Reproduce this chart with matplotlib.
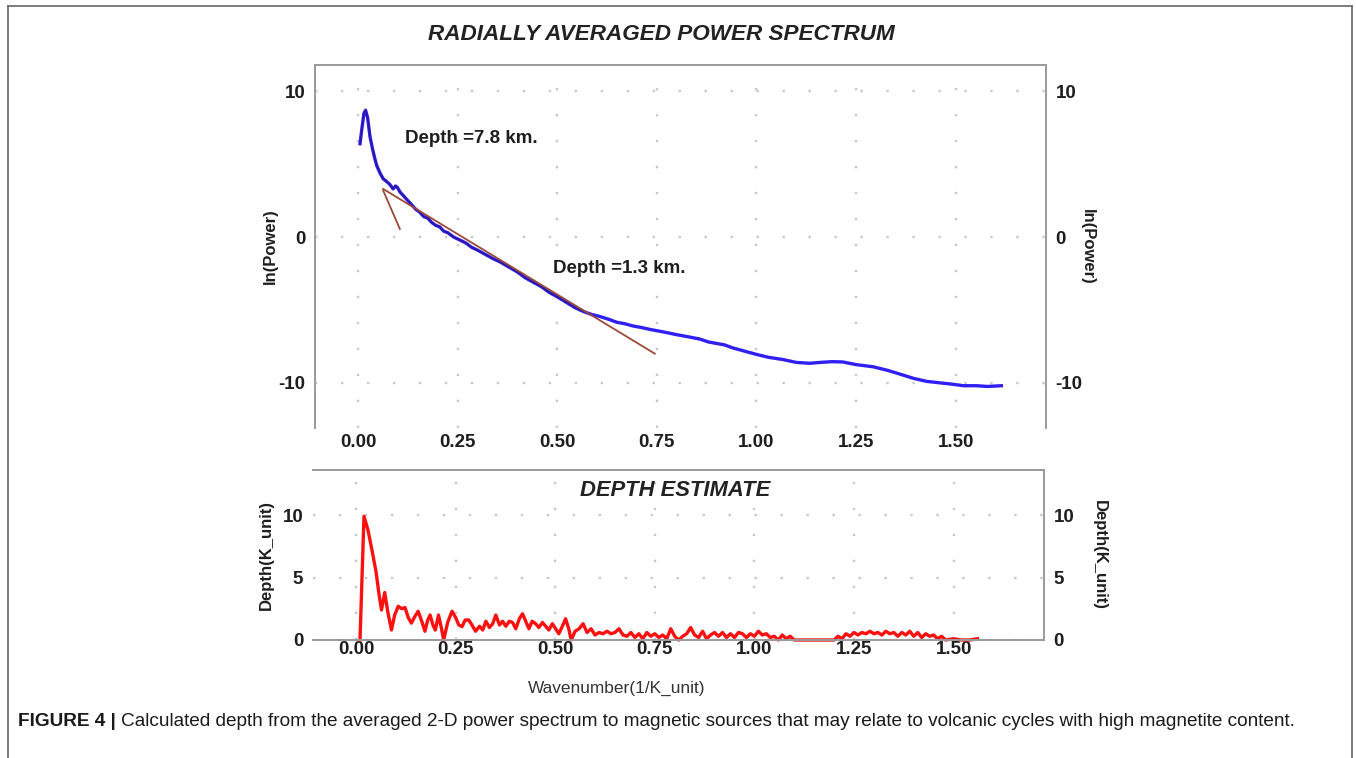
import matplotlib
matplotlib.use("Agg")
import matplotlib.pyplot as plt
from matplotlib.lines import Line2D

plt.rcParams['font.family'] = ['Liberation Sans', 'DejaVu Sans']

# ---- data: radially averaged power spectrum (blue) ----
k_power = [0.005, 0.010, 0.015, 0.019, 0.024, 0.030, 0.036, 0.042, 0.047, 0.055,
           0.063, 0.072, 0.080, 0.088, 0.094, 0.099, 0.105, 0.115, 0.125, 0.135,
           0.145, 0.155, 0.165, 0.175, 0.185, 0.195, 0.205, 0.215, 0.225, 0.240,
           0.255, 0.270, 0.285, 0.300, 0.320, 0.340, 0.356, 0.375, 0.400, 0.420,
           0.440, 0.460, 0.480, 0.500, 0.524, 0.545, 0.565, 0.585, 0.607, 0.630,
           0.650, 0.670, 0.690, 0.710, 0.735, 0.755, 0.774, 0.800, 0.830, 0.858,
           0.880, 0.900, 0.920, 0.940, 0.960, 0.980, 1.000, 1.030, 1.066, 1.100,
           1.134, 1.160, 1.190, 1.217, 1.250, 1.293, 1.330, 1.360, 1.395, 1.427,
           1.460, 1.493, 1.520, 1.552, 1.580, 1.615]
ln_power = [6.4, 7.5, 8.5, 8.7, 8.2, 6.9, 6.1, 5.4, 4.9, 4.4,
            4.0, 3.8, 3.6, 3.3, 3.5, 3.4, 3.1, 2.8, 2.5, 2.2,
            1.9, 1.7, 1.4, 1.3, 1.0, 0.8, 0.7, 0.4, 0.3, 0.0,
            -0.2, -0.4, -0.7, -0.9, -1.2, -1.5, -1.7, -2.0, -2.4, -2.8,
            -3.1, -3.4, -3.8, -4.1, -4.5, -4.85, -5.1, -5.3, -5.45, -5.65,
            -5.85, -5.95, -6.1, -6.2, -6.35, -6.45, -6.55, -6.7, -6.85, -7.0,
            -7.2, -7.3, -7.4, -7.6, -7.75, -7.9, -8.05, -8.25, -8.4, -8.6,
            -8.66, -8.6, -8.55, -8.57, -8.75, -8.9, -9.15, -9.4, -9.7, -9.9,
            -10.0, -10.1, -10.2, -10.2, -10.25, -10.2]

# fitted lines (endpoints)
fit_deep_k = [0.063, 0.105]
fit_deep_v = [3.2, 0.55]
fit_shallow_k = [0.063, 0.745]
fit_shallow_v = [3.3, -8.0]

# ---- data: depth estimate (red) ----
k_depth = [0.010, 0.020, 0.030, 0.040, 0.050, 0.058, 0.064, 0.072, 0.080, 0.089,
           0.097, 0.106, 0.115, 0.123, 0.131, 0.139, 0.148, 0.156, 0.165, 0.173,
           0.180, 0.186, 0.193, 0.199, 0.207, 0.214, 0.220, 0.230, 0.241, 0.250,
           0.258, 0.266, 0.274, 0.283, 0.291, 0.300, 0.310, 0.318, 0.326, 0.335,
           0.343, 0.351, 0.360, 0.368, 0.376, 0.385, 0.393, 0.401, 0.410, 0.418,
           0.426, 0.434, 0.442, 0.451, 0.459, 0.468, 0.476, 0.484, 0.493, 0.501,
           0.509, 0.518, 0.526, 0.534, 0.540, 0.550, 0.560, 0.570, 0.580, 0.590,
           0.600, 0.610, 0.620, 0.630, 0.640, 0.650, 0.660, 0.670, 0.680, 0.690,
           0.700, 0.710, 0.720, 0.730, 0.740, 0.750, 0.760, 0.770, 0.780, 0.790,
           0.800, 0.810, 0.820, 0.830, 0.840, 0.850, 0.860, 0.870, 0.880, 0.890,
           0.900, 0.910, 0.920, 0.930, 0.940, 0.950, 0.960, 0.970, 0.980, 0.990,
           1.000, 1.010, 1.020, 1.030, 1.040, 1.050, 1.060, 1.070, 1.080, 1.090,
           1.100, 1.120, 1.140, 1.160, 1.180, 1.200, 1.210, 1.220, 1.230, 1.240,
           1.250, 1.260, 1.270, 1.280, 1.290, 1.300, 1.310, 1.320, 1.330, 1.340,
           1.350, 1.360, 1.370, 1.380, 1.390, 1.400, 1.410, 1.420, 1.430, 1.440,
           1.450, 1.460, 1.470, 1.480, 1.500, 1.520, 1.540, 1.560]
depth = [0.0, 9.9, 8.8, 7.2, 5.5, 3.6, 2.4, 3.8, 2.2, 0.8,
         2.0, 2.7, 2.5, 2.6, 1.8, 1.35, 1.9, 2.3, 1.5, 0.7,
         1.6, 2.0, 1.2, 0.8, 2.0, 1.0, 0.0, 1.4, 2.3, 1.8,
         1.2, 1.07, 1.6, 1.6, 1.2, 0.7, 1.1, 0.8, 1.5, 1.0,
         1.3, 2.0, 1.2, 1.5, 1.1, 1.5, 1.4, 0.9, 1.7, 2.1,
         1.5, 0.9, 1.5, 1.3, 1.0, 1.4, 1.1, 0.8, 1.3, 0.9,
         0.5, 1.1, 1.7, 0.9, 0.0, 0.7, 0.9, 1.3, 0.6, 0.9,
         0.4, 0.6, 0.5, 0.7, 0.5, 0.6, 0.9, 0.4, 0.3, 0.6,
         0.2, 0.5, 0.1, 0.6, 0.3, 0.5, 0.2, 0.4, 0.1, 0.9,
         0.3, 0.0, 0.3, 0.5, 1.0, 0.4, 0.2, 0.7, 0.1, 0.4,
         0.6, 0.3, 0.6, 0.2, 0.5, 0.2, 0.6, 0.5, 0.2, 0.5,
         0.3, 0.7, 0.4, 0.5, 0.2, 0.3, 0.0, 0.4, 0.1, 0.3,
         0.0, 0.0, 0.0, 0.0, 0.0, 0.0, 0.3, 0.1, 0.5, 0.3,
         0.6, 0.4, 0.6, 0.5, 0.7, 0.5, 0.6, 0.4, 0.7, 0.5,
         0.6, 0.3, 0.6, 0.4, 0.7, 0.3, 0.6, 0.2, 0.5, 0.3,
         0.4, 0.1, 0.3, 0.0, 0.1, 0.0, 0.0, 0.1]

x_ticks = [0.00, 0.25, 0.50, 0.75, 1.00, 1.25, 1.50]
x_tick_labels = ["0.00", "0.25", "0.50", "0.75", "1.00", "1.25", "1.50"]
power_ticks = [-10, 0, 10]
depth_ticks = [0, 5, 10]

W, H = 1356, 758
fig = plt.figure(figsize=(W / 100, H / 100), dpi=100)

def fx(px):
    return px / W

def fy(py):
    return 1 - py / H

spine_col = '#9a9a9a'
grid_kw = dict(color='#c8c8c8', linestyle=(0, (1, 10)), linewidth=1.7)
tick_font = dict(fontsize=13.5, fontweight='bold', color='#1e1e1e')

# ---------------- top axes ----------------
ax1 = fig.add_axes([fx(315), fy(428), fx(1046) - fx(315), fy(65) - fy(428)])
ax1.plot(k_power, ln_power, color='#2f1ff2', linewidth=2.4, solid_joinstyle='round')
k_dark = [k for k in k_power if k <= 0.6]
ax1.plot(k_dark, ln_power[:len(k_dark)], color='#2a1466', linewidth=0.9, alpha=0.7)
ax1.plot(fit_deep_k, fit_deep_v, color='#9b4a3a', linewidth=1.3)
ax1.plot(fit_shallow_k, fit_shallow_v, color='#9b4a3a', linewidth=1.3)
ax1.set_xlim(-0.108, 1.727)
ax1.set_ylim(-13.1, 11.8)
ax1.set_xticks(x_ticks)
ax1.set_xticklabels(x_tick_labels, **tick_font)
ax1.set_yticks(power_ticks)
ax1.set_yticklabels([str(v) for v in power_ticks], **tick_font)
ax1.tick_params(axis='y', length=0, pad=7, labelright=True, right=False)
ax1.tick_params(axis='x', length=0, pad=4)
ax1.grid(True, **grid_kw)
for s in ax1.spines.values():
    s.set_color(spine_col)
    s.set_linewidth(1.4)
ax1.spines['bottom'].set_visible(False)
ax1.set_ylabel("ln(Power)", fontsize=12, fontweight='bold', labelpad=0, color='#1e1e1e')
ax1r = ax1.secondary_yaxis('right')
ax1r.set_yticks([])
ax1r.spines['right'].set_visible(False)
ax1r.set_ylabel("ln(Power)", fontsize=12, fontweight='bold', rotation=-90, labelpad=35,
                color='#1e1e1e')
ax1.text(0.117, 6.75, "Depth =7.8 km.", fontsize=13.5, fontweight='bold', va='center',
         color='#1e1e1e')
ax1.text(0.490, -2.15, "Depth =1.3 km.", fontsize=13.5, fontweight='bold', va='center',
         color='#1e1e1e')

fig.text(fx(661), fy(35), "RADIALLY AVERAGED POWER SPECTRUM", fontsize=16.2,
         fontweight='bold', fontstyle='italic', ha='center', va='center', color='#222222')

# ---------------- bottom axes ----------------
ax2 = fig.add_axes([fx(313), fy(640), fx(1044) - fx(313), fy(470) - fy(640)])
ax2.plot(k_depth, depth, color='#ff1010', linewidth=2.4, solid_joinstyle='round', clip_on=False)
ax2.set_xlim(-0.108, 1.727)
ax2.set_ylim(0, 13.6)
ax2.set_xticks(x_ticks)
ax2.set_xticklabels(x_tick_labels, **tick_font)
ax2.set_yticks(depth_ticks)
ax2.set_yticklabels([str(v) for v in depth_ticks], **tick_font)
ax2.tick_params(axis='y', length=0, pad=7, labelright=True, right=False)
ax2.tick_params(axis='x', length=0, pad=1)
ax2.grid(True, **grid_kw)
for s in ax2.spines.values():
    s.set_color(spine_col)
    s.set_linewidth(1.4)
ax2.spines['left'].set_visible(False)
ax2.set_ylabel("Depth(K_unit)", fontsize=12, fontweight='bold', labelpad=6, color='#1e1e1e')
ax2r = ax2.secondary_yaxis('right')
ax2r.set_yticks([])
ax2r.spines['right'].set_visible(False)
ax2r.set_ylabel("Depth(K_unit)", fontsize=12, fontweight='bold', rotation=-90, labelpad=45,
                color='#1e1e1e')
fig.text(fx(617), fy(688), "Wavenumber(1/K_unit)", fontsize=12.4, color='#333333',
         ha='center', va='center')
ax2.text(fx(675), fy(490), "DEPTH ESTIMATE", transform=fig.transFigure, fontsize=15.8,
         fontweight='bold', fontstyle='italic', ha='center', va='center', color='#222222')

# ---------------- caption ----------------
cap_size = 13.65
t1 = fig.text(fx(18), fy(722), "FIGURE 4 | ", fontsize=cap_size, fontweight='bold',
              va='center', ha='left', color='#1a1a1a')
fig.add_artist(
    matplotlib.text.Annotation(
        "Calculated depth from the averaged 2-D power spectrum to magnetic sources that may relate to volcanic cycles with high magnetite content.",
        xy=(1, 0.5), xycoords=t1, va='center', ha='left', fontsize=cap_size, color='#1a1a1a'))

# ---------------- outer border ----------------
bc = '#666666'
fig.add_artist(Line2D([fx(8), fx(8)], [fy(6), 0], transform=fig.transFigure, color=bc, lw=1.2))
fig.add_artist(Line2D([fx(8), fx(1352)], [fy(6), fy(6)], transform=fig.transFigure, color=bc, lw=1.2))
fig.add_artist(Line2D([fx(1352), fx(1352)], [fy(6), 0], transform=fig.transFigure, color=bc, lw=1.2))

fig.savefig("out.png", dpi=100, facecolor='white')
